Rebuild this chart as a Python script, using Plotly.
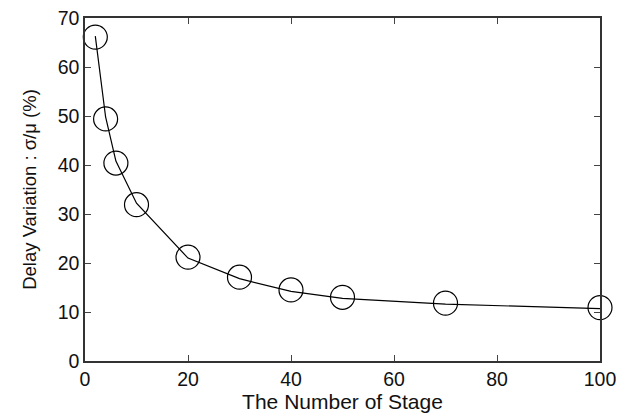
import plotly.graph_objects as go

stages = [2, 4, 6, 10, 20, 30, 40, 50, 70, 100]
variation = [66.1, 49.4, 40.4, 31.9, 21.2, 17.1, 14.5, 13.0, 11.8, 10.9]
fit_curve = [66.3, 49.8, 40.8, 32.2, 21.0, 16.8, 14.2, 12.8, 11.6, 10.7]

x_ticks = [0, 20, 40, 60, 80, 100]
y_ticks = [0, 10, 20, 30, 40, 50, 60, 70]

fig = go.Figure()
fig.add_trace(go.Scatter(x=stages, y=fit_curve, mode="lines", cliponaxis=False,
                         line=dict(color="black", width=1.2), showlegend=False))
fig.add_trace(go.Scatter(x=stages, y=variation, mode="markers", cliponaxis=False,
                         marker=dict(symbol="circle-open", size=24, color="black",
                                     line=dict(width=1.2, color="black")),
                         showlegend=False))

font = "Liberation Sans, Arial, sans-serif"
fig.update_layout(
    width=625, height=416,
    margin=dict(l=85, r=25, t=18, b=55),
    plot_bgcolor="white", paper_bgcolor="white",
    font=dict(family=font, color="#111"),
)
fig.update_xaxes(range=[0, 100], tickvals=x_ticks, ticks="inside", ticklen=6,
                 showline=True, linecolor="#333", linewidth=1.5, mirror="ticks",
                 showgrid=False, zeroline=False, tickfont=dict(size=19.5), automargin=False,
                 title=dict(text="The Number of Stage", font=dict(size=21), standoff=0))
fig.update_yaxes(range=[0, 70], tickvals=y_ticks, ticks="inside", ticklen=6,
                 showline=True, linecolor="#333", linewidth=1.5, mirror="ticks",
                 showgrid=False, zeroline=False, tickfont=dict(size=19.5), automargin=False,
                 title=dict(text="Delay Variation : σ/μ (%)", font=dict(size=18.5), standoff=16))
fig.write_html("out.html")
